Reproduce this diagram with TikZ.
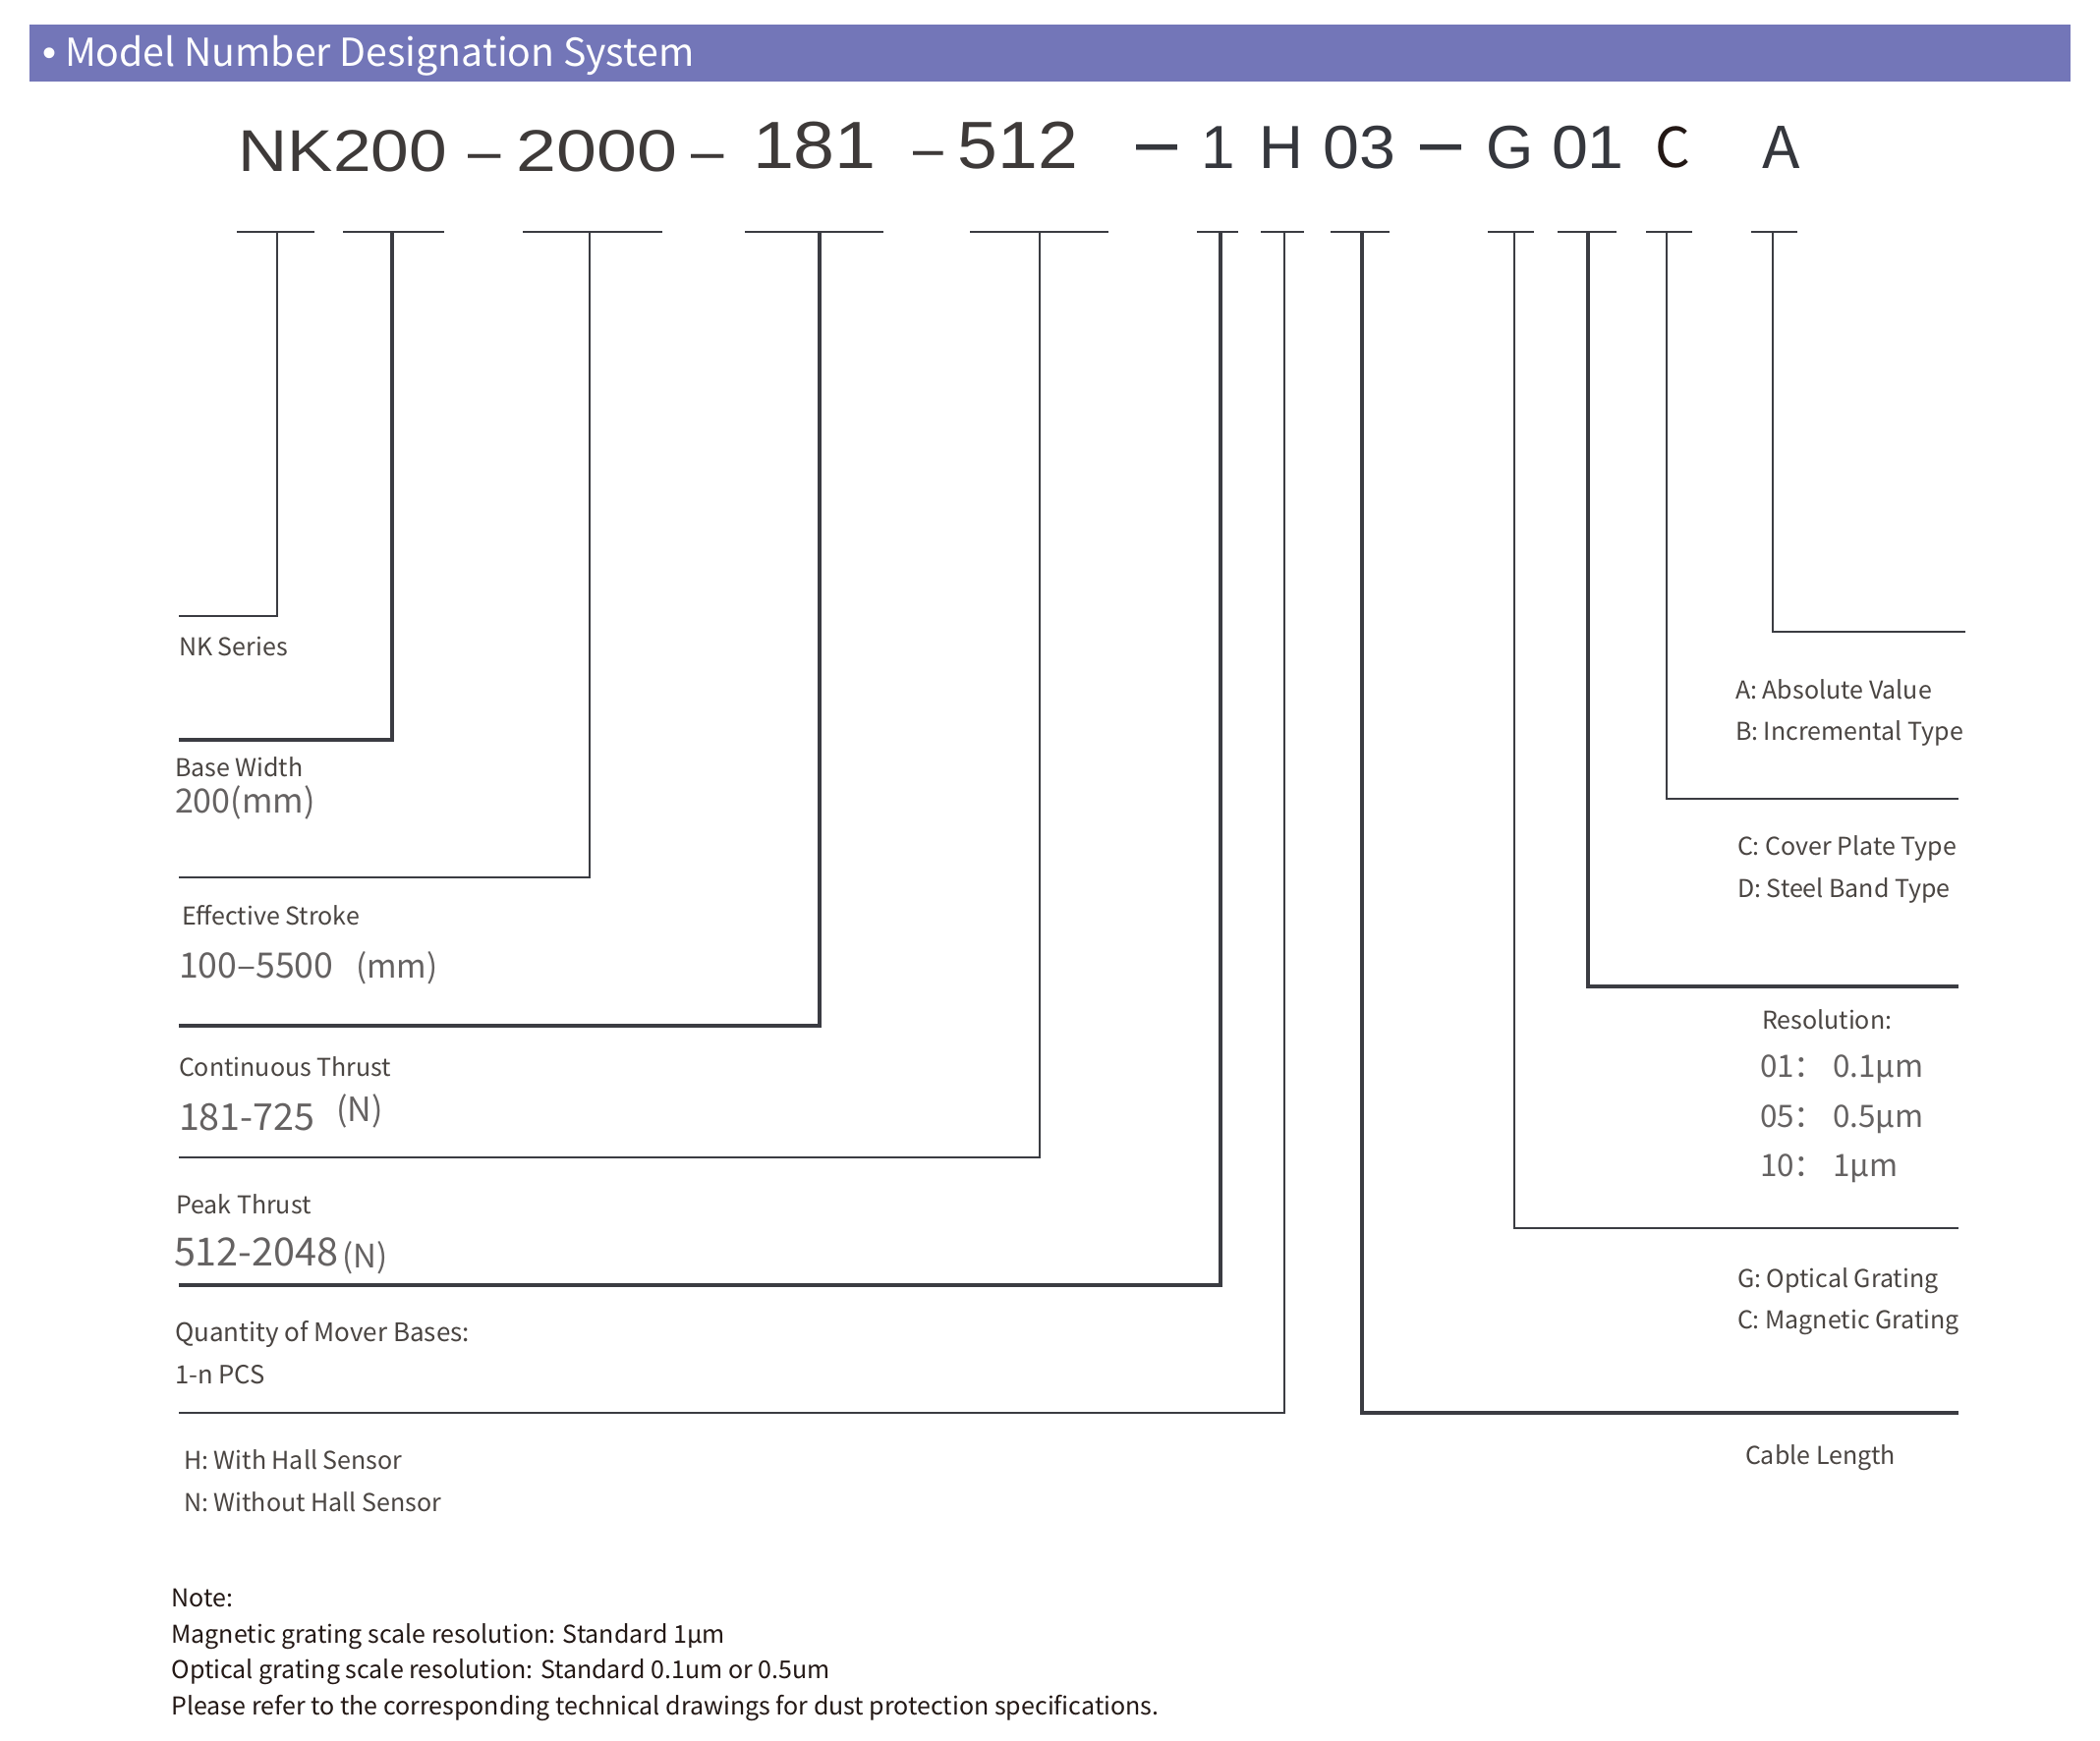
\documentclass[tikz,border=0pt]{standalone}
\usepackage{fontspec}
\usepackage{graphicx}
\setmainfont{Noto Sans CJK SC}
\newfontfamily\codefont{Liberation Sans}
\newcommand{\hstretch}[2]{\scalebox{#1}[1]{#2}}
\definecolor{barc}{HTML}{7376B8}
\definecolor{lblc}{HTML}{4A4542}
\definecolor{valc}{HTML}{656262}
\definecolor{linec}{HTML}{3B3C42}
\definecolor{codec}{HTML}{3E3A39}
\definecolor{coder}{HTML}{35373D}
\definecolor{cblack}{HTML}{231815}
\begin{document}
\begin{tikzpicture}[x=0.5pt,y=-0.5pt,
  every node/.style={inner sep=0pt,outer sep=0pt,anchor=base west},
  lbl/.style={text=lblc,font=\fontsize{12.5}{15}\selectfont},
  val/.style={text=valc,font=\fontsize{17}{20}\selectfont},
  note/.style={text=cblack,font=\fontsize{12.5}{15}\selectfont},
  codeL/.style={text=codec,font=\codefont\fontsize{30}{34}\selectfont},
  codeM/.style={text=codec,font=\codefont\fontsize{34}{40}\selectfont},
  codeR/.style={text=coder,font=\codefont\fontsize{31}{36}\selectfont},
  codeD/.style={text=coder,font=\codefont\fontsize{42}{48}\selectfont},
  tbar/.style={draw=linec,line width=1.3pt},
  thinln/.style={draw=linec,line width=1.15pt},
  thickln/.style={draw=linec,line width=2.2pt}]
\useasboundingbox (0,0) rectangle (2137,1772);
\fill[white] (0,0) rectangle (2137,1772);

% header bar
\fill[barc] (30,24.5) rectangle (2107,83);
\node[text=white,font=\codefont\fontsize{20}{22}\selectfont] (bul) at (43,68) {•};
\node[text=white,font=\fontsize{19.6}{22}\selectfont] (title) at (66,68) {Model Number Designation System};

% model number
\node[codeL] (cNK) at (242.7,174) {\hstretch{1.157}{NK200}};
\node[codeL] (d1) at (476,174) {–};
\node[codeL] (c2000) at (525.8,174) {\hstretch{1.225}{2000}};
\node[codeL] (d2) at (703,174) {–};
\node[codeM] (c181) at (766,171) {\hstretch{1.11}{181}};
\node[codeL] (d3) at (929,171) {\hstretch{0.92}{–}};
\node[codeM] (c512) at (974.8,171) {\hstretch{1.077}{512}};
\node[codeD] (d4) at (1156,171) {\hstretch{0.9}{–}};
\node[codeR] (c1) at (1222,171) {1};
\node[codeR] (cH) at (1281,171) {H};
\node[codeR] (c03) at (1346.2,171) {\hstretch{1.07}{03}};
\node[codeD] (d5) at (1445,171) {\hstretch{0.9}{–}};
\node[codeR] (cG) at (1512,171) {G};
\node[codeR] (c01) at (1579,171) {\hstretch{1.07}{01}};
\node[text=cblack,font=\fontsize{28}{32}\selectfont] (cC) at (1684,170) {C};
\node[text=coder,font=\fontsize{29.3}{34}\selectfont] (cA) at (1793,171) {\hstretch{1.08}{A}};

% T bars
\foreach \a/\b in {241/320,349/452,532/674,758/899,987/1128,1218/1260,1283/1327,1354/1414,1514/1561,1585/1645,1675/1722,1782/1829}
  \draw[tbar] (\a,236) -- (\b,236);

% connector coordinates
\coordinate (t1) at (282,236);  \coordinate (e1) at (182,627);
\coordinate (t2) at (399,236);  \coordinate (e2) at (182,753);
\coordinate (t3) at (600,236);  \coordinate (e3) at (182,893);
\coordinate (t4) at (834,236);  \coordinate (e4) at (182,1044);
\coordinate (t5) at (1058,236); \coordinate (e5) at (182,1178);
\coordinate (t6) at (1242,236); \coordinate (e6) at (182,1308);
\coordinate (t7) at (1307,236); \coordinate (e7) at (182,1438);
\coordinate (t8) at (1386,236); \coordinate (e8) at (1993,1438);
\coordinate (t9) at (1541,236); \coordinate (e9) at (1993,1250);
\coordinate (t10) at (1616,236); \coordinate (e10) at (1993,1004);
\coordinate (t11) at (1696,236); \coordinate (e11) at (1993,813);
\coordinate (t12) at (1804,236); \coordinate (e12) at (2000,643);

\draw[thinln] (t1) |- (e1);
\draw[thickln] (t2) |- (e2);
\draw[thinln] (t3) |- (e3);
\draw[thickln] (t4) |- (e4);
\draw[thinln] (t5) |- (e5);
\draw[thickln] (t6) |- (e6);
\draw[thinln] (t7) |- (e7);
\draw[thickln] (t8) |- (e8);
\draw[thinln] (t9) |- (e9);
\draw[thickln] (t10) |- (e10);
\draw[thinln] (t11) |- (e11);
\draw[thinln] (t12) |- (e12);

% left labels
\node[lbl] (l1) at (182,667) {NK Series};
\node[lbl] (l2) at (178,790) {Base Width};
\node[val] (v2) at (178,827) {200(mm)};
\node[lbl] (l3) at (185,941) {Effective Stroke};
\node[val,font=\fontsize{17.8}{20}\selectfont] (v3) at (182,995) {100–5500};
\node[val,font=\fontsize{16.5}{20}\selectfont] (v3u) at (362,995) {(mm)};
\node[lbl] (l4) at (182,1095) {Continuous Thrust};
\node[val,font=\fontsize{18.8}{22}\selectfont] (v4) at (182,1150) {181-725};
\node[val,font=\fontsize{17}{20}\selectfont] (v4n) at (342,1141) {(N)};
\node[lbl] (l5) at (179,1235) {Peak Thrust};
\node[val,font=\fontsize{19.8}{24}\selectfont] (v5) at (177,1288) {512-2048};
\node[val,font=\fontsize{16.5}{20}\selectfont] (v5n) at (348,1290) {(N)};
\node[lbl,font=\fontsize{13}{15}\selectfont] (l6) at (178,1365) {Quantity of Mover Bases:};
\node[lbl,font=\fontsize{12.8}{15}\selectfont] (v6) at (178,1408) {1-n PCS};
\node[lbl] (l7) at (187,1495) {H: With Hall Sensor};
\node[lbl] (v7) at (187,1538) {N: Without Hall Sensor};

% right labels
\node[lbl] (r12a) at (1766,711) {A: Absolute Value};
\node[lbl] (r12b) at (1766,753) {B: Incremental Type};
\node[lbl] (r11a) at (1768,870) {C: Cover Plate Type};
\node[lbl] (r11b) at (1768,913) {D: Steel Band Type};
\node[lbl] (r10) at (1793,1047) {Resolution:};
\node[val,font=\fontsize{15.7}{19}\selectfont] (r10a) at (1791,1096) {01：};
\node[val,font=\fontsize{15.7}{19}\selectfont] (r10av) at (1865,1096) {0.1µm};
\node[val,font=\fontsize{15.7}{19}\selectfont] (r10b) at (1791,1147) {05：};
\node[val,font=\fontsize{15.7}{19}\selectfont] (r10bv) at (1865,1147) {0.5µm};
\node[val,font=\fontsize{15.7}{19}\selectfont] (r10c) at (1791,1197.5) {10：};
\node[val,font=\fontsize{15.7}{19}\selectfont] (r10cv) at (1865,1197.5) {1µm};
\node[lbl] (r9a) at (1768,1310) {G: Optical Grating};
\node[lbl] (r9b) at (1768,1352) {C: Magnetic Grating};
\node[lbl] (r8) at (1776,1490) {Cable Length};

% note
\node[note] (n1) at (174.5,1635) {Note:};
\node[note] (n2) at (174.5,1672) {Magnetic grating scale resolution: Standard 1µm};
\node[note] (n3) at (174.5,1708) {Optical grating scale resolution: Standard 0.1um or 0.5um};
\node[note] (n4) at (174.5,1745) {Please refer to the corresponding technical drawings for dust protection specifications.};
\end{tikzpicture}
\end{document}
